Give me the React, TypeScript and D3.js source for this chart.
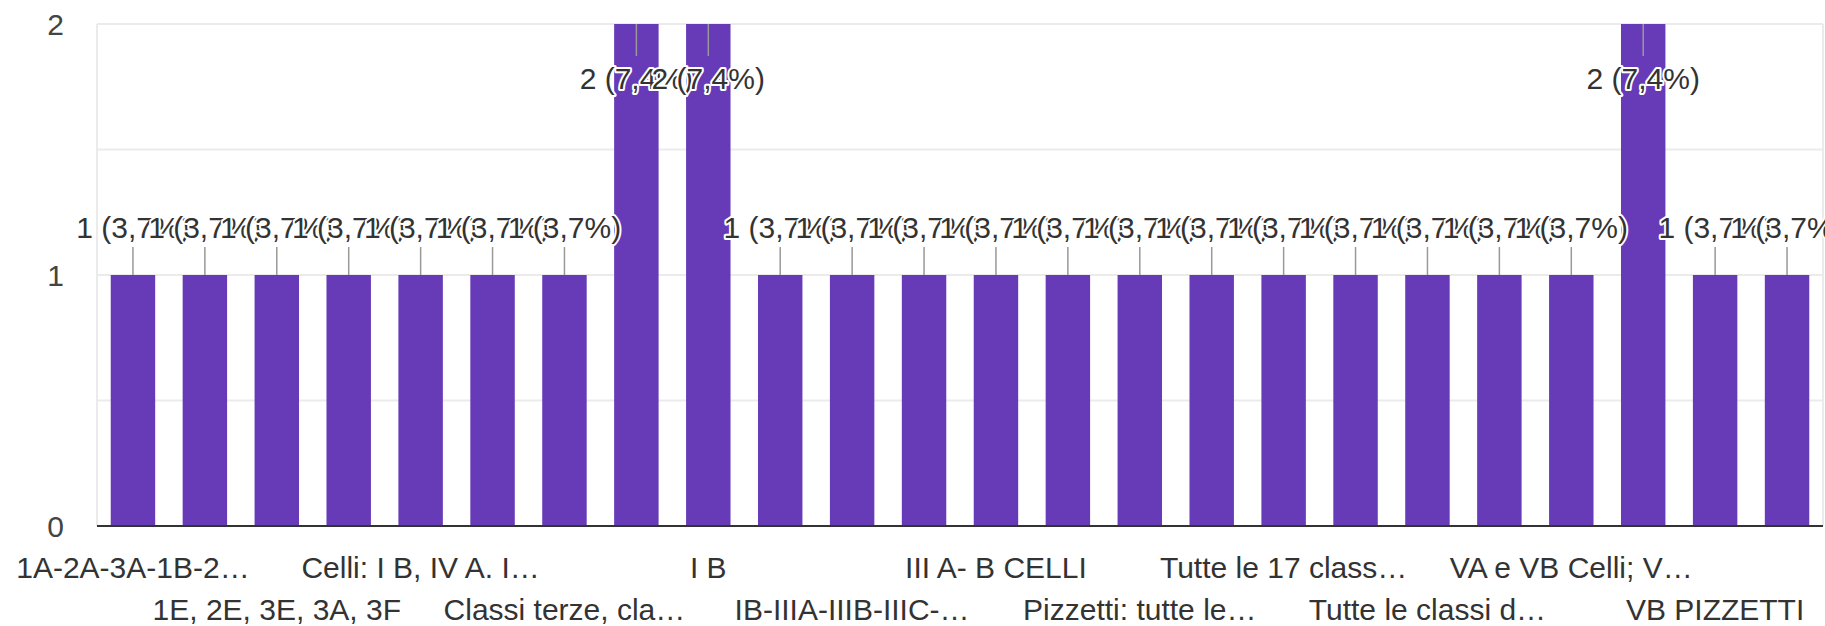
import React, { useEffect, useRef } from "react";
import * as d3 from "d3";

// categories in the order shown; the odd ones have no visible tick label in the picture
const categories = [
  "1A-2A-3A-1B-2…",
  "1B, 2B, 3B",
  "1E, 2E, 3E, 3A, 3F",
  "3A, 3B, 3C",
  "Celli: I B, IV A. I…",
  "Classi prime",
  "Classi terze, cla…",
  "I A",
  "I B",
  "I C",
  "IB-IIIA-IIIB-IIIC-…",
  "II A",
  "III A- B CELLI",
  "IV A",
  "Pizzetti: tutte le…",
  "Tutte",
  "Tutte le 17 class…",
  "Tutte le classi",
  "Tutte le classi d…",
  "V A",
  "VA e VB Celli; V…",
  "VA PIZZETTI",
  "VB PIZZETTI",
  "VC",
];

const counts = [1, 1, 1, 1, 1, 1, 1, 2, 2, 1, 1, 1, 1, 1, 1, 1, 1, 1, 1, 1, 1, 2, 1, 1];

const yTicks = [0, 1, 2];
const gridTicks = [0.5, 1, 1.5, 2];

const FONT = "'Liberation Sans', Arial, sans-serif";

const App = () => {
  const ref = useRef<SVGSVGElement>(null);

  useEffect(() => {
    drawChart();
  }, []);

  const width = 1825;
  const height = 626;
  const plot = { left: 97, right: 1823, top: 24, bottom: 526 };

  const drawChart = () => {
    const svg = d3.select(ref.current);
    svg.selectAll("*").remove();

    const total = d3.sum(counts);
    const pct = (v: number) => d3.format(".1f")((v / total) * 100).replace(".", ",");

    // x scale
    const x = d3
      .scaleBand()
      .domain(d3.range(categories.length).map(String))
      .range([plot.left, plot.right])
      .paddingInner(0.382)
      .paddingOuter(0.191);

    // y scale
    const y = d3.scaleLinear().domain([0, 2]).range([plot.bottom, plot.top]);

    // grid
    svg
      .append("g")
      .selectAll("line")
      .data(gridTicks)
      .join("line")
      .attr("x1", plot.left)
      .attr("x2", plot.right)
      .attr("y1", (d) => y(d))
      .attr("y2", (d) => y(d))
      .attr("stroke", "#ebebeb")
      .attr("stroke-width", 2);

    svg
      .append("g")
      .selectAll("line")
      .data([plot.left, plot.right])
      .join("line")
      .attr("x1", (d) => d)
      .attr("x2", (d) => d)
      .attr("y1", plot.top)
      .attr("y2", plot.bottom)
      .attr("stroke", "#ebebeb")
      .attr("stroke-width", 2);

    // y labels
    svg
      .append("g")
      .selectAll("text")
      .data(yTicks)
      .join("text")
      .attr("x", 64)
      .attr("y", (d) => y(d) + 11)
      .attr("text-anchor", "end")
      .attr("font-family", FONT)
      .attr("font-size", 30)
      .attr("fill", "#444")
      .text((d) => d);

    // bars
    svg
      .append("g")
      .attr("fill", "#673ab7")
      .selectAll("rect")
      .data(counts)
      .join("rect")
      .attr("x", (d, i) => x(String(i))!)
      .attr("y", (d) => y(d))
      .attr("width", x.bandwidth())
      .attr("height", (d) => y(0) - y(d));

    // baseline
    svg
      .append("line")
      .attr("x1", plot.left)
      .attr("x2", plot.right)
      .attr("y1", y(0))
      .attr("y2", y(0))
      .attr("stroke", "#333")
      .attr("stroke-width", 2);

    const cx = (i: number) => x(String(i))! + x.bandwidth() / 2;
    const inside = (d: number) => d >= 2; // no room above: annotation goes inside the bar
    const stem = (d: number) => (inside(d) ? 32 : 28);

    // stems
    svg
      .append("g")
      .selectAll("line")
      .data(counts)
      .join("line")
      .attr("x1", (d, i) => cx(i))
      .attr("x2", (d, i) => cx(i))
      .attr("y1", (d) => y(d))
      .attr("y2", (d) => (inside(d) ? y(d) + stem(d) : y(d) - stem(d)))
      .attr("stroke", "#999")
      .attr("stroke-width", 1.5);

    // annotations, drawn one after another so the halos overlap
    const ann = svg.append("g");
    counts.forEach((d, i) => {
      ann
        .append("text")
        .attr("x", cx(i))
        .attr("y", inside(d) ? y(d) + stem(d) + 33 : y(d) - stem(d) - 9)
        .attr("text-anchor", "middle")
        .attr("font-family", FONT)
        .attr("font-size", 30)
        .attr("fill", "#333")
        .attr("stroke", "#fff")
        .attr("stroke-width", 4)
        .attr("paint-order", "stroke")
        .attr("stroke-linejoin", "round")
        .text(`${d} (${pct(d)}%)`);
    });

    // x labels: every other category, alternating rows
    svg
      .append("g")
      .selectAll("text")
      .data(categories.map((c, i) => ({ c, i })).filter((d) => d.i % 2 === 0))
      .join("text")
      .attr("x", (d) => cx(d.i))
      .attr("y", (d) => ((d.i / 2) % 2 === 0 ? 578 : 620))
      .attr("text-anchor", "middle")
      .attr("font-family", FONT)
      .attr("font-size", 30)
      .attr("fill", "#333")
      .text((d) => d.c);
  };

  return (
    <div style={{ position: "fixed", left: 0, top: 0, width: width, height: height, overflow: "hidden", background: "#fff" }}>
      <svg ref={ref} width={width} height={height} style={{ display: "block" }}></svg>
    </div>
  );
};

export default App;
